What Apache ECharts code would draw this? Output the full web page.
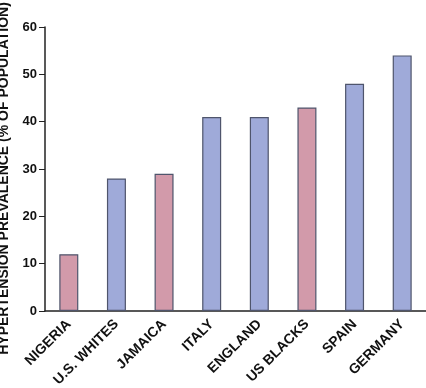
<!DOCTYPE html>
<html><head><meta charset="utf-8">
<script src="https://cdn.jsdelivr.net/npm/echarts@6/dist/echarts.min.js"></script>
<style>html,body{margin:0;padding:0;background:#fff}#c{width:426px;height:388px}</style>
</head><body><div id="c"></div>
<script>
const categories = ["NIGERIA","U.S. WHITES","JAMAICA","ITALY","ENGLAND","US BLACKS","SPAIN","GERMANY"];
const values = [12,28,29,41,41,43,48,54];
const groups = ["black","white","black","white","white","black","white","white"];
const yTicks = [0,10,20,30,40,50,60];
const colorMap = {black:"#d29aaa", white:"#9faad9"};
const font = "'Liberation Sans', Arial, sans-serif";
const chart = echarts.init(document.getElementById('c'));
chart.setOption({
  animation:false,
  grid:{left:45,right:0,top:27,bottom:77,containLabel:false,outerBoundsMode:'none'},
  xAxis:{type:'category',data:categories,
    axisLine:{lineStyle:{color:'#222',width:1.5}},
    axisTick:{alignWithLabel:true,length:6,lineStyle:{color:'#222'}},
    axisLabel:{rotate:45,fontFamily:font,fontWeight:'bold',fontSize:14,color:'#111',margin:11,interval:0}},
  yAxis:{type:'value',min:yTicks[0],max:yTicks[yTicks.length-1],interval:10,
    name:'HYPERTENSION PREVALENCE (% OF POPULATION)',nameLocation:'middle',nameGap:33,nameRotate:90,
    nameTextStyle:{fontFamily:font,fontWeight:'bold',fontSize:14,color:'#111',padding:[0,19,0,0]},
    axisLine:{show:true,lineStyle:{color:'#222',width:1.5}},
    axisTick:{show:true,length:6,lineStyle:{color:'#222'}},
    splitLine:{show:false},
    axisLabel:{fontFamily:font,fontWeight:'bold',fontSize:13,color:'#111',margin:8}},
  series:[{type:'bar',barWidth:19,
    data:values.map((v,i)=>({value:v,itemStyle:{color:colorMap[groups[i]]}})),
    itemStyle:{borderColor:'#4f556c',borderWidth:1.2}}]
});
</script></body></html>
